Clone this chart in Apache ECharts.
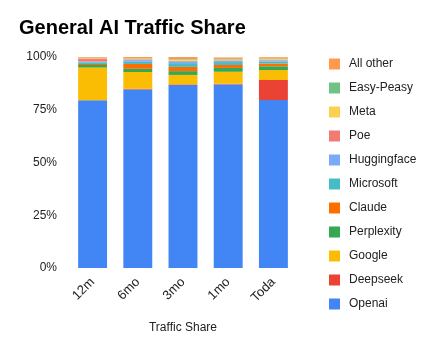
<!DOCTYPE html>
<html>
<head>
<meta charset="utf-8">
<script src="https://cdn.jsdelivr.net/npm/echarts@6/dist/echarts.min.js"></script>
<style>
html,body{margin:0;padding:0;background:#fff;}
#chart{width:438px;height:351px;}
</style>
</head>
<body>
<div id="chart"></div>
<script>
// categories (x axis)
var periods = ['12m', '6mo', '3mo', '1mo', 'Toda'];
var yTicks = [0, 25, 50, 75, 100];

// share per period, percent
var openai      = [79.5, 84.6, 86.7, 87.0, 79.6];
var deepseek    = [0.0, 0.3, 0.3, 0.3, 9.5];
var google      = [15.5, 8.0, 4.5, 5.7, 4.7];
var perplexity  = [1.2, 1.5, 1.8, 1.8, 1.8];
var claude      = [0.5, 2.3, 2.0, 1.4, 1.3];
var microsoft   = [0.8, 1.0, 1.8, 1.4, 1.0];
var huggingface = [0.3, 0.8, 0.8, 0.5, 0.5];
var poe         = [1.5, 0.4, 0.3, 0.3, 0.3];
var meta        = [0.2, 0.3, 0.5, 0.4, 0.3];
var easyPeasy   = [0.2, 0.2, 0.3, 0.3, 0.3];
var allOther    = [0.3, 0.6, 1.0, 0.7, 0.6];

var seriesNames = ['Openai', 'Deepseek', 'Google', 'Perplexity', 'Claude', 'Microsoft',
    'Huggingface', 'Poe', 'Meta', 'Easy-Peasy', 'All other'];
var seriesData = [openai, deepseek, google, perplexity, claude, microsoft,
    huggingface, poe, meta, easyPeasy, allOther];
var colors = ['#4285f4', '#ea4335', '#fbbc04', '#34a853', '#ff6d01', '#46bdc6',
    '#7baaf7', '#f07b72', '#fcd04f', '#71c287', '#ff994d'];

var font = 'Liberation Sans, Arial, sans-serif';

var series = [];
for (var i = 0; i < seriesNames.length; i++) {
    series.push({
        name: seriesNames[i],
        type: 'bar',
        stack: 'share',
        barWidth: '64%',
        itemStyle: {color: colors[i]},
        data: seriesData[i]
    });
}

var myChart = echarts.init(document.getElementById('chart'));
var option = {
    animation: false,
    backgroundColor: '#fff',
    textStyle: {fontFamily: font},
    title: {
        text: 'General AI Traffic Share',
        left: 14,
        top: 13,
        textStyle: {fontSize: 20, fontWeight: 'bold', color: '#000', fontFamily: font}
    },
    legend: {
        orient: 'vertical',
        left: 324,
        top: 53,
        itemWidth: 11,
        itemHeight: 11,
        itemGap: 12,
        icon: 'rect',
        data: seriesNames.slice().reverse(),
        textStyle: {fontSize: 12, color: '#222', fontFamily: font, padding: [0, 0, 0, 4]}
    },
    grid: {
        left: 70,
        top: 57,
        width: 226,
        height: 211,
        containLabel: false
    },
    xAxis: {
        type: 'category',
        data: periods,
        name: 'Traffic Share',
        nameLocation: 'middle',
        nameGap: 54,
        nameTextStyle: {fontSize: 12, color: '#222'},
        axisLine: {show: false},
        axisTick: {show: false},
        axisLabel: {rotate: 45, fontSize: 13, color: '#222', margin: 12}
    },
    yAxis: {
        type: 'value',
        min: yTicks[0],
        max: yTicks[yTicks.length - 1],
        interval: 25,
        axisLine: {show: false},
        axisTick: {show: false},
        splitLine: {show: false},
        axisLabel: {formatter: '{value}%', fontSize: 12, color: '#222', margin: 13}
    },
    series: series
};
myChart.setOption(option);
</script>
</body>
</html>
